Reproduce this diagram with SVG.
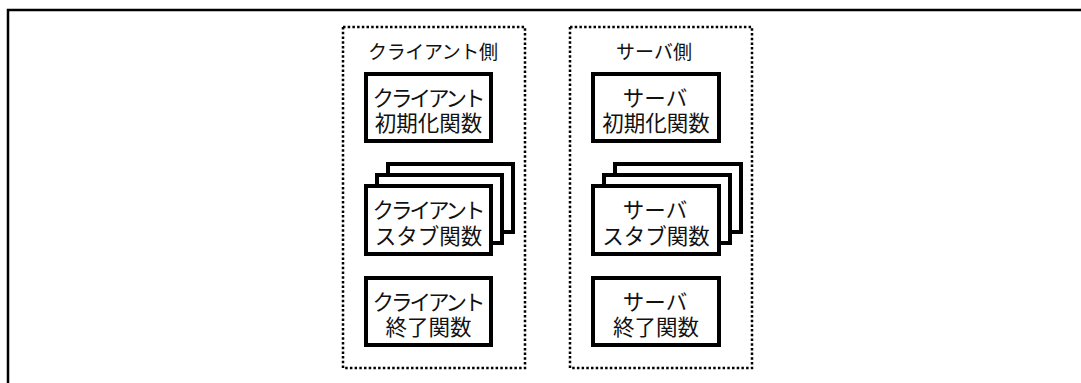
<svg xmlns="http://www.w3.org/2000/svg" width="1081" height="383" viewBox="0 0 1081 383">
<style>
  .frame{fill:none;stroke:#000;stroke-width:2.5}
  .group{fill:none;stroke:#000;stroke-width:2.5;stroke-dasharray:2.5 2.2}
  .box{fill:#fff;stroke:#000;stroke-width:4}
  .t{font-family:"Noto Sans CJK JP","Noto Sans CJK SC",sans-serif;font-size:21.5px;fill:#111;text-anchor:middle}
  .title{font-family:"Noto Sans CJK JP","Noto Sans CJK SC",sans-serif;font-size:19px;fill:#111;text-anchor:middle}
</style>
<rect width="1081" height="383" fill="#fff"/>
<path class="frame" d="M8,383 V10 H1081"/>

<g id="client-side">
  <rect class="group" x="343" y="27" width="182" height="341"/>
  <text class="title" x="433" y="59" textLength="130" lengthAdjust="spacing">クライアント側</text>
</g>
<g id="server-side">
  <rect class="group" x="570" y="27" width="182" height="341"/>
  <text class="title" x="654" y="59">サーバ側</text>
</g>

<g id="client-init">
  <rect class="box" x="366" y="74" width="125" height="67"/>
  <text class="t" x="429" y="105.5" textLength="113" lengthAdjust="spacing">クライアント</text>
  <text class="t" x="428.5" y="130.5">初期化関数</text>
</g>
<g id="client-stub">
  <rect class="box" x="388" y="164" width="125" height="68"/>
  <rect class="box" x="377" y="175" width="125" height="68"/>
  <rect class="box" x="366" y="186" width="125" height="68"/>
  <text class="t" x="429" y="218" textLength="113" lengthAdjust="spacing">クライアント</text>
  <text class="t" x="428.5" y="243.5">スタブ関数</text>
</g>
<g id="client-end">
  <rect class="box" x="366" y="278" width="125" height="67"/>
  <text class="t" x="429" y="309.5" textLength="113" lengthAdjust="spacing">クライアント</text>
  <text class="t" x="428.5" y="335">終了関数</text>
</g>

<g id="server-init">
  <rect class="box" x="593" y="74" width="126" height="67"/>
  <text class="t" x="655" y="105.5">サーバ</text>
  <text class="t" x="656" y="130.5">初期化関数</text>
</g>
<g id="server-stub">
  <rect class="box" x="615" y="164" width="126" height="68"/>
  <rect class="box" x="604" y="175" width="126" height="68"/>
  <rect class="box" x="593" y="186" width="126" height="68"/>
  <text class="t" x="655" y="218">サーバ</text>
  <text class="t" x="656" y="243.5">スタブ関数</text>
</g>
<g id="server-end">
  <rect class="box" x="593" y="278" width="126" height="67"/>
  <text class="t" x="655" y="309.5">サーバ</text>
  <text class="t" x="656" y="335">終了関数</text>
</g>
<g id="connectors"/>
</svg>
